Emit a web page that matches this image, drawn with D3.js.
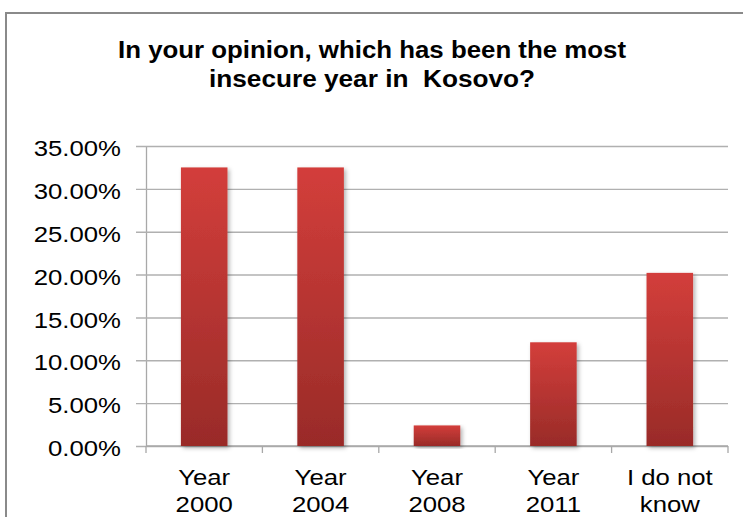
<!DOCTYPE html>
<html>
<head>
<meta charset="utf-8">
<script src="https://cdn.jsdelivr.net/npm/d3@7"></script>
<style>
  html, body { margin: 0; padding: 0; background: #fff; }
  svg { display: block; }
  text { font-family: "Liberation Sans", Arial, sans-serif; }
</style>
</head>
<body>
<svg id="chart" width="743" height="517"></svg>
<script>
// ---- data ----
const titleLines = ["In your opinion, which has been the most", "insecure year in  Kosovo?"];
const categories = ["Year 2000", "Year 2004", "Year 2008", "Year 2011", "I do not know"];
const categoryLines = [["Year", "2000"], ["Year", "2004"], ["Year", "2008"], ["Year", "2011"], ["I do not", "know"]];
const values = [32.5, 32.5, 2.4, 12.1, 20.2];
const yTicks = [0, 5, 10, 15, 20, 25, 30, 35];

// ---- layout ----
const W = 743, H = 517;
const margin = { left: 146, top: 146, right: 15, bottom: 71 };
const innerW = W - margin.left - margin.right;
const innerH = H - margin.top - margin.bottom;
const stretch = 1.17;

const svg = d3.select("#chart");

const defs = svg.append("defs");
const grad = defs.append("linearGradient").attr("id", "barGrad")
  .attr("x1", 0).attr("y1", 0).attr("x2", 0).attr("y2", 1);
grad.append("stop").attr("offset", "0%").attr("stop-color", "#d33e3b");
grad.append("stop").attr("offset", "100%").attr("stop-color", "#992b28");
const filt = defs.append("filter").attr("id", "shadow")
  .attr("x", "-20%").attr("y", "-5%").attr("width", "150%").attr("height", "115%");
filt.append("feDropShadow").attr("dx", 2).attr("dy", 2).attr("stdDeviation", 2)
  .attr("flood-color", "#000").attr("flood-opacity", 0.3);

// outer frame
svg.append("rect").attr("x", 6).attr("y", 13).attr("width", 760).attr("height", 540)
  .attr("fill", "none").attr("stroke", "#8a8a8a").attr("stroke-width", 2);

// title
const title = svg.append("g");
const titleWidths = [508, 326];
titleLines.forEach((t, i) => {
  title.append("text")
    .attr("x", 372).attr("y", 58 + i * 29)
    .attr("text-anchor", "middle")
    .attr("font-size", 23).attr("font-weight", "bold")
    .attr("fill", "#000")
    .style("white-space", "pre")
    .attr("textLength", titleWidths[i])
    .attr("lengthAdjust", "spacingAndGlyphs")
    .text(t);
});

const g = svg.append("g").attr("transform", `translate(${margin.left},${margin.top})`);

const x = d3.scaleBand().domain(categories).range([0, innerW]).padding(0);
const y = d3.scaleLinear().domain([0, 35]).range([innerH, 0]);

// y axis with gridlines
const yAxis = g.append("g").call(
  d3.axisLeft(y).tickValues(yTicks).tickSizeOuter(0)
    .tickFormat(d => d3.format(".2f")(d) + "%")
);
yAxis.select(".domain").attr("stroke", "#a8a8a8").attr("stroke-width", 1.3);
yAxis.selectAll(".tick line").attr("x1", -10).attr("x2", innerW)
  .attr("stroke", "#b0b0b0").attr("stroke-width", 1.4);
yAxis.selectAll(".tick text")
  .attr("x", -25 / stretch).attr("dy", "0.44em")
  .attr("transform", `scale(${stretch},1)`)
  .attr("font-size", 22).attr("fill", "#000")
  .style("font-family", "'Liberation Sans', Arial, sans-serif");

// x axis line and boundary ticks
const xAxis = g.append("g").attr("transform", `translate(0,${innerH})`);
xAxis.append("line").attr("x1", 0).attr("x2", innerW).attr("y1", 0).attr("y2", 0)
  .attr("stroke", "#a8a8a8").attr("stroke-width", 1.4);
const bounds = categories.map(c => x(c)).concat([x(categories[categories.length - 1]) + x.bandwidth()]);
xAxis.selectAll("line.tk").data(bounds).join("line").attr("class", "tk")
  .attr("x1", d => d).attr("x2", d => d).attr("y1", 0).attr("y2", 7)
  .attr("stroke", "#a8a8a8").attr("stroke-width", 1.3);

// x labels
categoryLines.forEach((lines, i) => {
  const cx = x(categories[i]) + x.bandwidth() / 2;
  lines.forEach((ln, j) => {
    xAxis.append("text")
      .attr("transform", `translate(${cx},${39 + j * 27}) scale(${stretch},1)`)
      .attr("text-anchor", "middle")
      .attr("font-size", 22).attr("fill", "#000")
      .text(ln);
  });
});

// bars
const barFrac = 0.4;
g.append("g").selectAll("rect").data(values).join("rect")
  .attr("x", (d, i) => x(categories[i]) + x.bandwidth() * (1 - barFrac) / 2)
  .attr("width", x.bandwidth() * barFrac)
  .attr("y", d => y(d))
  .attr("height", d => y(0) - y(d))
  .attr("fill", "url(#barGrad)")
  .attr("filter", "url(#shadow)");
</script>
</body>
</html>
